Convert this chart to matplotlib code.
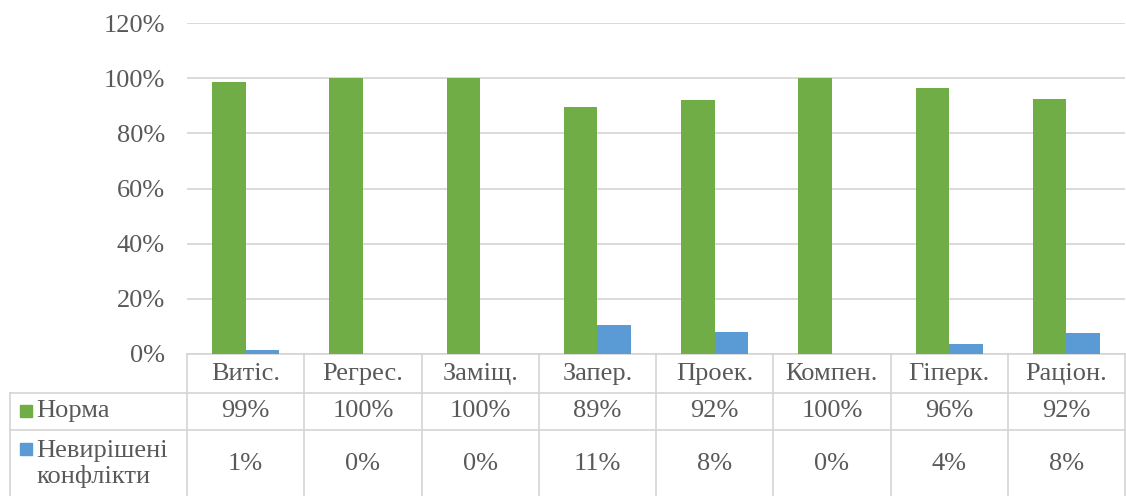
import numpy as np
import matplotlib.pyplot as plt
from matplotlib.lines import Line2D
from matplotlib.patches import Rectangle
from matplotlib.transforms import blended_transform_factory

categories = ["Витіс.", "Регрес.", "Заміщ.", "Запер.", "Проек.", "Компен.", "Гіперк.", "Раціон."]
norma = [0.986, 1.0, 1.0, 0.895, 0.92, 1.0, 0.964, 0.923]
conflicts = [0.014, 0.0, 0.0, 0.105, 0.08, 0.0, 0.036, 0.077]
norma_labels = ["99%", "100%", "100%", "89%", "92%", "100%", "96%", "92%"]
conflict_labels = ["1%", "0%", "0%", "11%", "8%", "0%", "4%", "8%"]
series_names = ["Норма", "Невирішені\nконфлікти"]

GREEN = "#70AD47"
BLUE = "#5B9BD5"
TXT = "#595959"
LINE = "#d4d4d4"
FS = 19

plt.rcParams["font.family"] = ["Liberation Serif", "DejaVu Serif"]

W, H = 1126, 496
fig = plt.figure(figsize=(W / 100, H / 100), dpi=100)


def fx(px):
    return px / W


def fy(py):
    # py measured from top of the image
    return 1 - py / H


ax = fig.add_axes([fx(187), fy(354), fx(1125) - fx(187), fy(23) - fy(354)])
x = np.arange(len(categories))
bw = 0.285
ax.bar(x - bw / 2, norma, bw, color=GREEN, zorder=3)
ax.bar(x + bw / 2, conflicts, bw, color=BLUE, zorder=3)
ax.set_xlim(-0.5, len(categories) - 0.5)
ax.set_ylim(0, 1.2)
ax.set_yticks(np.arange(0, 1.21, 0.2))
ax.set_yticklabels([f"{int(round(v * 100))}%" for v in np.arange(0, 1.21, 0.2)])
ax.tick_params(axis="y", length=0, pad=16, labelsize=FS, labelcolor=TXT)
ax.tick_params(axis="x", length=0, labelbottom=False)
ax.grid(axis="y", color=LINE, linewidth=1.2, zorder=0)
for s in ["top", "right", "left"]:
    ax.spines[s].set_visible(False)
ax.spines["bottom"].set_color(LINE)
ax.spines["bottom"].set_linewidth(1.2)

# data table under the chart
tr = blended_transform_factory(ax.transData, fig.transFigure)
row_y = [354, 393, 430, 496]
left_px = 10
for i in range(len(categories) + 1):
    fig.add_artist(Line2D([i - 0.5, i - 0.5], [fy(354), fy(496)], transform=tr,
                          color=LINE, linewidth=1.2))
fig.add_artist(Line2D([fx(left_px), fx(left_px)], [fy(393), fy(496)],
                      transform=fig.transFigure, color=LINE, linewidth=1.2))
for yy in row_y[1:3]:
    fig.add_artist(Line2D([fx(left_px), fx(1125)], [fy(yy), fy(yy)],
                          transform=fig.transFigure, color=LINE, linewidth=1.2))

for i, c in enumerate(categories):
    fig.text(i, fy(374), c, transform=tr, ha="center", va="center",
             fontsize=FS, color=TXT)
    fig.text(i, fy(411), norma_labels[i], transform=tr, ha="center", va="center",
             fontsize=FS, color=TXT)
    fig.text(i, fy(464), conflict_labels[i], transform=tr, ha="center", va="center",
             fontsize=FS, color=TXT)

# legend keys in the first column
for (yc, name, col) in [(411, series_names[0], GREEN), (449, series_names[1], BLUE)]:
    fig.add_artist(Rectangle((fx(20), fy(yc + 6)), fx(12), fy(yc - 6) - fy(yc + 6),
                             transform=fig.transFigure, color=col))
fig.text(fx(36), fy(411), series_names[0], ha="left", va="center", fontsize=FS, color=TXT)
fig.text(fx(36), fy(464), series_names[1], ha="left", va="center", fontsize=FS, color=TXT,
         linespacing=1.15)

fig.savefig("out.png", dpi=100)
